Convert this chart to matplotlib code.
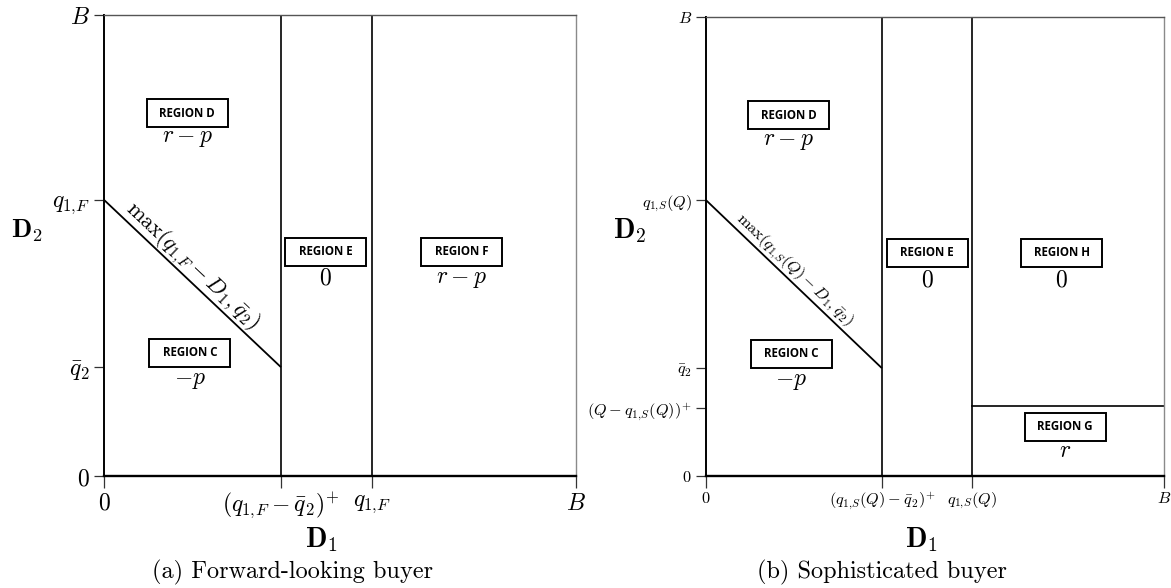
import numpy as np
import matplotlib
matplotlib.use("Agg")
import matplotlib.pyplot as plt
from matplotlib.patches import Rectangle

plt.rcParams['mathtext.fontset'] = 'cm'

# ---------------- data ----------------
# Panel (a): forward-looking buyer
a_xticks = [0.0, 0.375, 0.568, 1.0]
a_xlabels = [r'$0$', r'$(q_{1,\!F}-\bar{q}_2)^{+}$', r'$q_{1,\!F}$', r'$B$']
a_yticks = [0.0, 0.236, 0.599, 1.0]
a_ylabels = [r'$0$', r'$\bar{q}_2$', r'$q_{1,\!F}$', r'$B$']
a_vlines = [0.375, 0.568]
a_diag_x = [0.0, 0.375]
a_diag_y = [0.599, 0.236]
a_diag_label = r'$\max(q_{1,\!F}-D_1,\bar{q}_2)$'
a_regions = ['REGION D', 'REGION E', 'REGION F', 'REGION C']
a_values = [r'$r-p$', r'$0$', r'$r-p$', r'$-p$']
a_caption = '(a) Forward-looking buyer'

# Panel (b): sophisticated buyer
b_xticks = [0.0, 0.384, 0.581, 1.0]
b_xlabels = [r'$0$', r'$(q_{1,\!S}(Q)-\bar{q}_2)^{+}$', r'$q_{1,\!S}(Q)$', r'$B$']
b_yticks = [0.0, 0.148, 0.235, 0.601, 1.0]
b_ylabels = [r'$0$', r'$(Q-q_{1,\!S}(Q))^{+}$', r'$\bar{q}_2$', r'$q_{1,\!S}(Q)$', r'$B$']
b_vlines = [0.384, 0.581]
b_hline_y = 0.1525
b_hline_x = [0.581, 1.0]
b_diag_x = [0.0, 0.384]
b_diag_y = [0.601, 0.235]
b_diag_label = r'$\max(q_{1,\!S}(Q)-D_1,\bar{q}_2)$'
b_regions = ['REGION D', 'REGION E', 'REGION H', 'REGION C', 'REGION G']
b_values = [r'$r-p$', r'$0$', r'$0$', r'$-p$', r'$r$']
b_caption = '(b) Sophisticated buyer'

# ---------------- layout ----------------
W, H = 1171, 588
fig = plt.figure(figsize=(W / 100, H / 100), dpi=100)

def fx(px):
    return px / W

def fy(py):
    return 1 - py / H

axA = fig.add_axes([fx(104), fy(476), (576 - 104) / W, (476 - 15) / H])
axB = fig.add_axes([fx(706), fy(476), (1164 - 706) / W, (476 - 17) / H])

# region label positions (box centre x, box centre y, value y)
a_pos = [(0.176, 0.787, 0.735), (0.470, 0.486, 0.430), (0.758, 0.486, 0.430),
         (0.182, 0.267, 0.210)]
b_pos = [(0.181, 0.786, 0.732), (0.483, 0.486, 0.428), (0.777, 0.486, 0.428),
         (0.186, 0.266, 0.209), (0.784, 0.107, 0.057)]


def setup(ax, xticks, xlabels, yticks, ylabels, tick_fs, ylab_pad, xlab_pad):
    ax.set_xlim(0, 1)
    ax.set_ylim(0, 1)
    ax.set_xticks(xticks)
    ax.set_xticklabels(xlabels, fontsize=tick_fs)
    ax.set_yticks(yticks)
    ax.set_yticklabels(ylabels, fontsize=tick_fs)
    ax.tick_params(axis='x', direction='out', length=8.5, width=0.9, pad=xlab_pad,
                   color='#333333')
    ax.tick_params(axis='y', direction='out', length=7.2, width=0.9, pad=ylab_pad,
                   color='#333333')
    ax.spines['left'].set_linewidth(1.4)
    ax.spines['left'].set_color('black')
    ax.spines['bottom'].set_linewidth(1.7)
    ax.spines['bottom'].set_color('black')
    ax.spines['top'].set_linewidth(1.0)
    ax.spines['top'].set_color('#555555')
    ax.spines['right'].set_linewidth(1.0)
    ax.spines['right'].set_color('#8a8a8a')
    ax.patch.set_alpha(0)


def region_boxes(ax, names, values, pos, box_w_px, box_h_px, name_fs, val_fs):
    bbox = ax.get_position()
    ax_w_px = bbox.width * W
    ax_h_px = bbox.height * H
    bw = box_w_px / ax_w_px
    bh = box_h_px / ax_h_px
    for name, val, (cx, cy, vy) in zip(names, values, pos):
        ax.add_patch(Rectangle((cx - bw / 2, cy - bh / 2), bw, bh, facecolor='white',
                               edgecolor='black', linewidth=1.4, zorder=3))
        ax.text(cx, cy, name, ha='center', va='center', fontsize=name_fs,
                family='Open Sans', fontweight='bold', zorder=4)
        ax.text(cx, vy, val, ha='center', va='center', fontsize=val_fs, zorder=4)


def diag(ax, xs, ys, label, tx, ty, fs):
    ax.plot(xs, ys, color='black', lw=1.3, solid_capstyle='butt')
    p0 = ax.transData.transform((xs[0], ys[0]))
    p1 = ax.transData.transform((xs[1], ys[1]))
    ang = np.degrees(np.arctan2(p1[1] - p0[1], p1[0] - p0[0]))
    ax.text(tx, ty, label, rotation=ang, rotation_mode='anchor', ha='center',
            va='center', fontsize=fs)


# ---- panel A ----
setup(axA, a_xticks, a_xlabels, a_yticks, a_ylabels, 17, 3, 2)
for xv in a_vlines:
    axA.plot([xv, xv], [0, 1], color='black', lw=1.2)
diag(axA, a_diag_x, a_diag_y, a_diag_label, 0.186, 0.455, 16)
region_boxes(axA, a_regions, a_values, a_pos, 81, 28, 8.3, 17)

# ---- panel B ----
setup(axB, b_xticks, b_xlabels, b_yticks, b_ylabels, 11.7, 3, 2)
for xv in b_vlines:
    axB.plot([xv, xv], [0, 1], color='black', lw=1.2)
axB.plot(b_hline_x, [b_hline_y, b_hline_y], color='black', lw=1.2)
diag(axB, b_diag_x, b_diag_y, b_diag_label, 0.192, 0.449, 11.8)
region_boxes(axB, b_regions, b_values, b_pos, 81, 28, 8.3, 17)

# axis titles and captions
fig.text(fx(27), fy(231), r'$\mathbf{D_2}$', ha='center', va='center', fontsize=19)
fig.text(fx(630), fy(231), r'$\mathbf{D_2}$', ha='center', va='center', fontsize=20)
fig.text(fx(321), fy(540), r'$\mathbf{D_1}$', ha='center', va='center', fontsize=20)
fig.text(fx(921), fy(540), r'$\mathbf{D_1}$', ha='center', va='center', fontsize=20)
fig.text(fx(292), fy(572), a_caption, ha='center', va='center', fontsize=17.5,
         family='cmr10')
fig.text(fx(882), fy(572), b_caption, ha='center', va='center', fontsize=17.5,
         family='cmr10')

fig.savefig('out.png', dpi=100, facecolor='white')
